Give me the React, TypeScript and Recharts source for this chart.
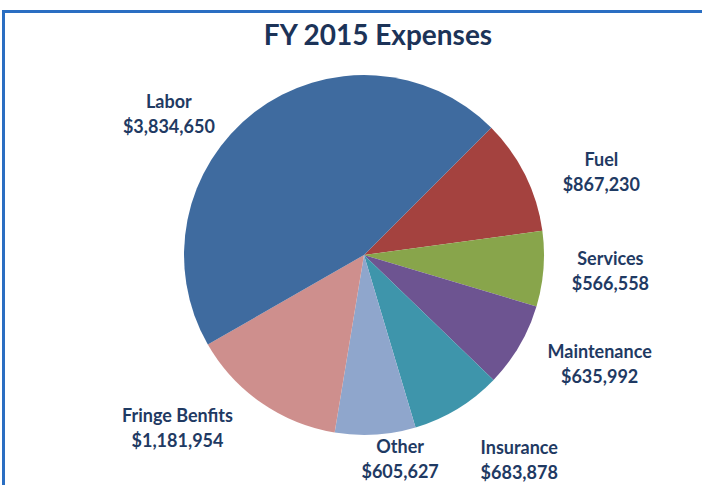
import { PieChart, Pie, Cell } from "recharts";

// slice order runs clockwise from the top-right (Fuel) round to Labor
const categories = [
  "Fuel",
  "Services",
  "Maintenance",
  "Insurance",
  "Other",
  "Fringe Benfits",
  "Labor",
];
const expenses = [867230, 566558, 635992, 683878, 605627, 1181954, 3834650];
const sliceColors = [
  "#A4423F",
  "#88A54B",
  "#6D5491",
  "#3E95AB",
  "#8FA6CC",
  "#CE8F8D",
  "#3F6B9F",
];

// where each label block sits: angle clockwise from 12 o'clock, distance from centre
const LABEL_SPOTS: Record<string, { angle: number; dist: number }> = {
  Fuel: { angle: 71, dist: 251 },
  Services: { angle: 94, dist: 247 },
  Maintenance: { angle: 115, dist: 260 },
  Insurance: { angle: 143, dist: 258 },
  Other: { angle: 170, dist: 208 },
  "Fringe Benfits": { angle: 227, dist: 255 },
  Labor: { angle: 305.6, dist: 240 },
};

const data = categories.map((name, i) => ({ name, value: expenses[i] }));

const TEXT_COLOR = "#1F3A63";
const FONT = "Lato, 'Open Sans', sans-serif";

function money(v: number) {
  return "$" + v.toLocaleString("en-US");
}

function renderLabel(props: any) {
  const { cx, cy, name, value } = props;
  const spot = LABEL_SPOTS[name];
  if (!spot) return null;
  const rad = (spot.angle * Math.PI) / 180;
  const x = cx + spot.dist * Math.sin(rad);
  const y = cy - spot.dist * Math.cos(rad);
  return (
    <g>
      <text
        x={x}
        y={y - 7}
        textAnchor="middle"
        fill={TEXT_COLOR}
        fontFamily={FONT}
        fontWeight={700}
        fontSize={18}
      >
        {name}
      </text>
      <text
        x={x}
        y={y + 18}
        textAnchor="middle"
        fill={TEXT_COLOR}
        fontFamily={FONT}
        fontWeight={700}
        fontSize={18}
      >
        {money(value)}
      </text>
    </g>
  );
}

export default function App() {
  return (
    <div
      style={{
        position: "absolute",
        left: 0,
        top: 0,
        width: 702,
        height: 485,
        background: "#fff",
        overflow: "hidden",
      }}
    >
      <div
        style={{
          position: "absolute",
          left: 2,
          top: 10,
          width: 697,
          height: 490,
          borderTop: "3px solid #2A6EC2",
          borderLeft: "3px solid #2A6EC2",
          borderRight: "1px solid #E4E4E4",
        }}
      />
      <div
        style={{
          position: "absolute",
          left: 178,
          width: 400,
          top: 17,
          textAlign: "center",
          fontFamily: FONT,
          fontWeight: 700,
          fontSize: 28,
          color: "#1C3358",
        }}
      >
        FY 2015 Expenses
      </div>
      <div style={{ position: "absolute", left: 0, top: 0 }}>
        <PieChart width={702} height={485}>
          <Pie
            data={data}
            dataKey="value"
            nameKey="name"
            cx={359}
            cy={250}
            outerRadius={180}
            startAngle={45}
            endAngle={-315}
            stroke="none"
            labelLine={false}
            label={renderLabel}
            isAnimationActive={false}
          >
            {data.map((entry, i) => (
              <Cell key={entry.name} fill={sliceColors[i]} />
            ))}
          </Pie>
        </PieChart>
      </div>
    </div>
  );
}
